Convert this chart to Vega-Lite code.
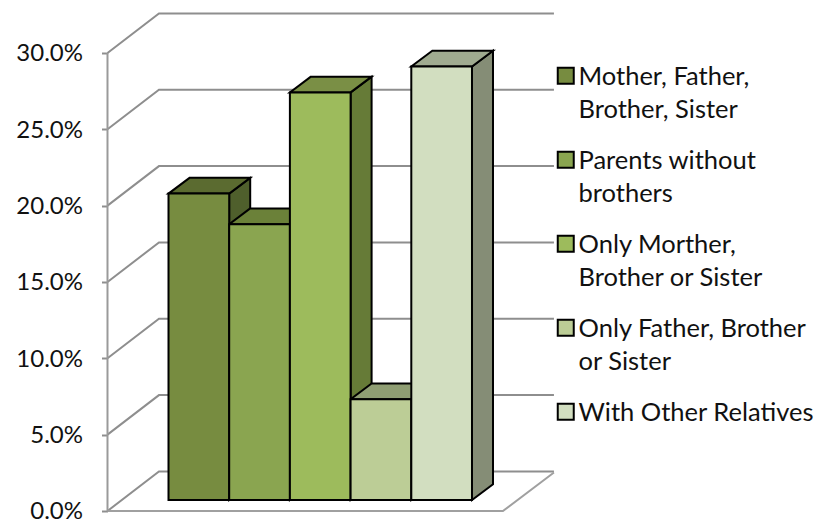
{
"$schema":"https://vega.github.io/schema/vega-lite/v6.json",
"width":832,"height":532,"padding":0,"autosize":{"type":"none"},
"background":"white",
"view":{"stroke":null},
"config":{"font":"Lato"},
"datasets":{
"bars":[
{"group":"Mother, Father, Brother, Sister","order":0,"value":0.2007},
{"group":"Parents without brothers","order":1,"value":0.1807},
{"group":"Only Morther, Brother or Sister","order":2,"value":0.267},
{"group":"Only Father, Brother or Sister","order":3,"value":0.066},
{"group":"With Other Relatives","order":4,"value":0.284}
],
"ticks":[{"tick":0},{"tick":0.05},{"tick":0.1},{"tick":0.15},{"tick":0.2},{"tick":0.25},{"tick":0.3}]
},
"encoding":{
"x":{"field":"px","type":"quantitative","axis":null,"scale":{"domain":[-2.776,10.931],"nice":false,"zero":false}},
"y":{"field":"py","type":"quantitative","scale":{"domain":[-0.01376,0.33471],"nice":false,"zero":false},
"axis":{"values":[0,0.05,0.1,0.15,0.2,0.25,0.3],"format":".1%","title":null,"domain":false,"grid":false,"offset":-107.5,"tickSize":6,"tickColor":"#8e8e8e","tickWidth":2,"labelFontSize":24,"labelColor":"#111111","labelPadding":19,"labelOffset":1,"labelFont":"Lato"}}
},
"layer":[
{"data":{"name":"ticks"},
"transform":[{"calculate":"[0,1,2]","as":"t"},{"flatten":["t"]},{"calculate":"[-1.005,-0.157,6.35][datum.t]","as":"px"},{"calculate":"datum.tick+(datum.t>0?0.0259:0)","as":"py"}],
"mark":{"type":"line","stroke":"#8e8e8e","strokeWidth":2,"interpolate":"linear"},
"encoding":{"detail":{"field":"tick"},"order":{"field":"t"}}},
{"data":{"values":[{"tick":0}]},
"transform":[{"calculate":"[0,1,2]","as":"t"},{"flatten":["t"]},{"calculate":"[-1.005,5.51,6.35][datum.t]","as":"px"},{"calculate":"datum.t>1?0.0252:0","as":"py"}],
"mark":{"type":"line","stroke":"#a0a0a0","strokeWidth":2},
"encoding":{"order":{"field":"t"}}},
{"data":{"values":[{"tick":0},{"tick":0.3}]},
"transform":[{"calculate":"-1.005","as":"px"},{"calculate":"datum.tick","as":"py"}],
"mark":{"type":"line","stroke":"#9a9a9a","strokeWidth":2}},
{"data":{"name":"bars"},
"transform":[{"calculate":"[0,1]","as":"t"},{"flatten":["t"]},{"calculate":"datum.order+1+datum.t*0.346","as":"px"},{"calculate":"0.0072+datum.value+datum.t*0.0103","as":"py"},{"calculate":"0.0072+datum.t*0.0103","as":"py2"}],
"mark":{"type":"area","stroke":"black","strokeWidth":2,"strokeJoin":"miter","opacity":1},
"encoding":{"y2":{"field":"py2"},"color":{"field":"group","type":"nominal","sort":null,"legend":null,"scale":{"domain":["Mother, Father, Brother, Sister","Parents without brothers","Only Morther, Brother or Sister","Only Father, Brother or Sister","With Other Relatives"],"range":["#4f5f2c","#5e7433","#667b37","#7d8a60","#858d76"]}}}},
{"data":{"name":"bars"},
"transform":[{"calculate":"[0,1]","as":"t"},{"flatten":["t"]},{"calculate":"datum.order+datum.t*0.346","as":"px"},{"calculate":"datum.order+1+datum.t*0.346","as":"px2"},{"calculate":"0.0072+datum.value+datum.t*0.0103","as":"py"}],
"mark":{"type":"area","orient":"horizontal","stroke":"black","strokeWidth":2,"strokeJoin":"miter","opacity":1},
"encoding":{"x2":{"field":"px2"},"color":{"field":"group","type":"nominal","sort":null,"legend":null,"scale":{"domain":["Mother, Father, Brother, Sister","Parents without brothers","Only Morther, Brother or Sister","Only Father, Brother or Sister","With Other Relatives"],"range":["#5b6b30","#6b8139","#7a8f45","#8f9e73","#a0ab90"]}}}},
{"data":{"name":"bars"},
"transform":[{"calculate":"datum.order","as":"px"},{"calculate":"datum.order+1","as":"px2"},{"calculate":"0.0072+datum.value","as":"py"},{"calculate":"0.0072","as":"py2"}],
"mark":{"type":"rect","stroke":"black","strokeWidth":2,"opacity":1},
"encoding":{"x2":{"field":"px2"},"y2":{"field":"py2"},"color":{"field":"group","type":"nominal","sort":null,"scale":{"domain":["Mother, Father, Brother, Sister","Parents without brothers","Only Morther, Brother or Sister","Only Father, Brother or Sister","With Other Relatives"],"range":["#778c40","#8aa550","#9dbb5c","#bccd96","#d2dec0"]},
"legend":{"title":null,"orient":"none","legendX":553,"legendY":63,"symbolType":"square","symbolSize":256,"symbolStrokeColor":"black","symbolStrokeWidth":2,"symbolOpacity":1,"labelFontSize":25.5,"labelFont":"Lato","labelColor":"#111111","labelOffset":0,"labelLimit":300,"rowPadding":23,"labelBaseline":"alphabetic","labelExpr":"{'Mother, Father, Brother, Sister':['Mother, Father,','Brother, Sister'],'Parents without brothers':['Parents without','brothers'],'Only Morther, Brother or Sister':['Only Morther,','Brother or Sister'],'Only Father, Brother or Sister':['Only Father, Brother','or Sister'],'With Other Relatives':['With Other Relatives']}[datum.label]","encode":{"labels":{"update":{"dy":{"value":9},"lineHeight":{"value":33}}}}}}}}
],
"resolve":{"scale":{"color":"independent"}}
}
